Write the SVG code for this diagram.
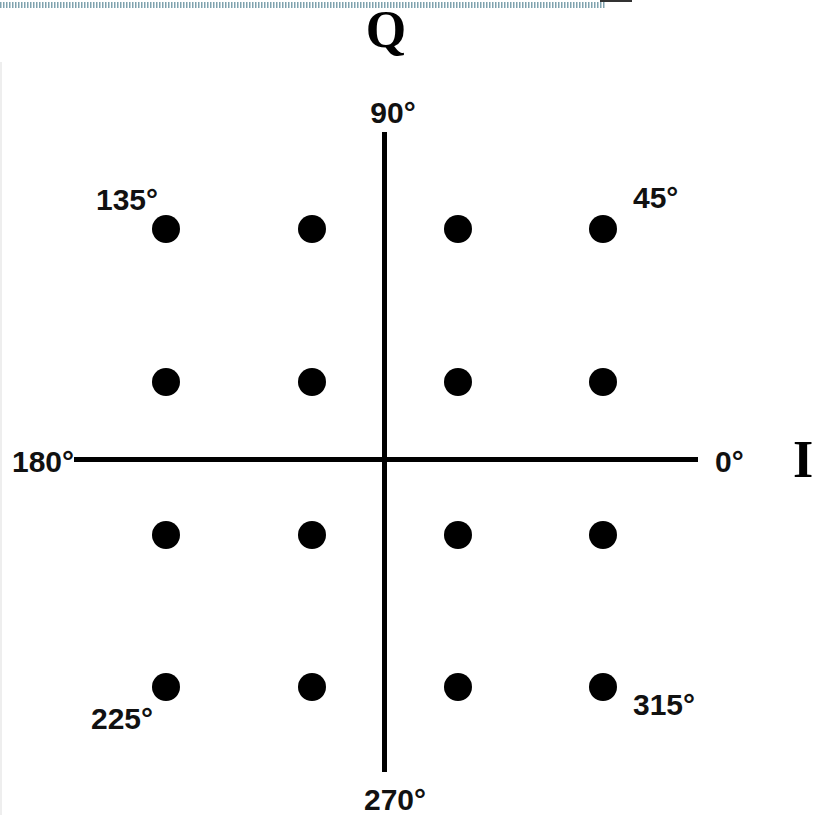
<svg xmlns="http://www.w3.org/2000/svg" width="815" height="815" viewBox="0 0 815 815">
<style>
.ax{stroke:#000;stroke-width:5;fill:none}
.dot{fill:#000}
.lbl{font-family:"Liberation Sans",Arial,sans-serif;font-weight:bold;font-size:30px;fill:#111}
.big{font-family:"Liberation Serif","Times New Roman",serif;font-weight:bold;font-size:52px;fill:#000}
</style>
<rect width="815" height="815" fill="#fff"/>
<line x1="0" y1="5" x2="605" y2="5" stroke="#7fa2ae" stroke-width="6" stroke-dasharray="1.5 1.5"/>
<rect x="600" y="0" width="32" height="2" fill="#333"/>
<line x1="1" y1="62" x2="1" y2="815" stroke="#ddd" stroke-width="1"/>
<g id="axes">
<line class="ax" x1="384.5" y1="132" x2="384.5" y2="772"/>
<line class="ax" x1="74" y1="459.5" x2="698" y2="459.5"/>
</g>
<g id="points">
<circle class="dot" cx="166" cy="229" r="14"/>
<circle class="dot" cx="312" cy="229" r="14"/>
<circle class="dot" cx="458" cy="229" r="14"/>
<circle class="dot" cx="603" cy="229" r="14"/>
<circle class="dot" cx="166" cy="382" r="14"/>
<circle class="dot" cx="312" cy="382" r="14"/>
<circle class="dot" cx="458" cy="382" r="14"/>
<circle class="dot" cx="603" cy="382" r="14"/>
<circle class="dot" cx="166" cy="535" r="14"/>
<circle class="dot" cx="312" cy="535" r="14"/>
<circle class="dot" cx="458" cy="535" r="14"/>
<circle class="dot" cx="603" cy="535" r="14"/>
<circle class="dot" cx="166" cy="687" r="14"/>
<circle class="dot" cx="312" cy="687" r="14"/>
<circle class="dot" cx="458" cy="687" r="14"/>
<circle class="dot" cx="603" cy="687" r="14"/>
</g>
<g id="labels">
<text class="big" x="386" y="47" text-anchor="middle">Q</text>
<text class="big" x="793" y="477">I</text>
<text class="lbl" x="393" y="123" text-anchor="middle">90°</text>
<text class="lbl" x="395" y="810" text-anchor="middle">270°</text>
<text class="lbl" x="12" y="472">180°</text>
<text class="lbl" x="715" y="472">0°</text>
<text class="lbl" x="96" y="210">135°</text>
<text class="lbl" x="633" y="208">45°</text>
<text class="lbl" x="91" y="729">225°</text>
<text class="lbl" x="633" y="715">315°</text>
</g>
</svg>
